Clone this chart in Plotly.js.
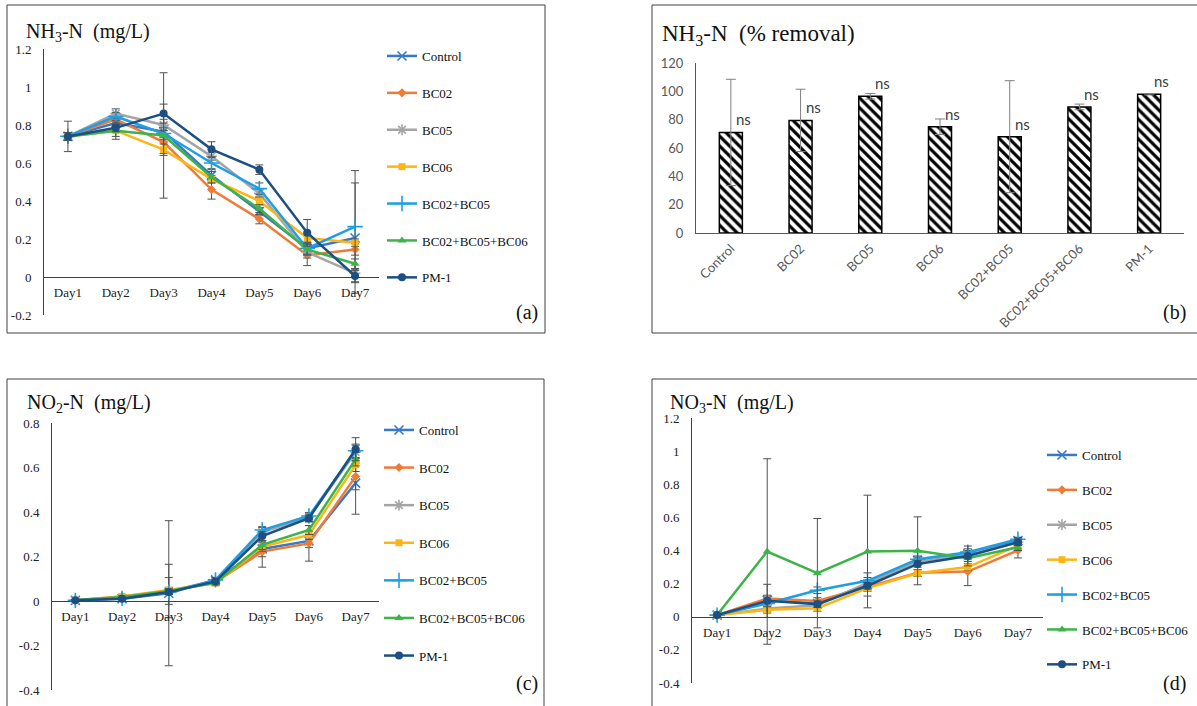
<!DOCTYPE html>
<html><head><meta charset="utf-8">
<script src="https://cdn.plot.ly/plotly-3.0.1.min.js"></script>
<style>html,body{margin:0;padding:0;background:#fff}#chart{width:1197px;height:706px}</style>
</head><body><div id="chart"></div>
<script>
// ---------- DATA ----------
const days = ['Day1','Day2','Day3','Day4','Day5','Day6','Day7'];
const seriesNames = ['Control','BC02','BC05','BC06','BC02+BC05','BC02+BC05+BC06','PM-1'];

// (a) NH3-N (mg/L), one row per series (order of seriesNames)
const nh3 = [
  [0.74, 0.81, 0.765, 0.535, 0.345, 0.15, 0.205],
  [0.74, 0.83, 0.71, 0.46, 0.305, 0.115, 0.145],
  [0.74, 0.86, 0.80, 0.635, 0.44, 0.13, 0.02],
  [0.74, 0.77, 0.67, 0.515, 0.40, 0.205, 0.18],
  [0.74, 0.845, 0.755, 0.60, 0.465, 0.15, 0.265],
  [0.74, 0.77, 0.745, 0.525, 0.36, 0.145, 0.07],
  [0.74, 0.785, 0.86, 0.672, 0.565, 0.233, 0.005]
];
const nh3Err = [
  [0.02, 0.02, 0.03, 0.03, 0.02, 0.03, 0.29],
  [0.02, 0.03, 0.06, 0.05, 0.025, 0.055, 0.03],
  [0.02, 0.025, 0.03, 0.02, 0.02, 0.03, 0.02],
  [0.02, 0.03, 0.03, 0.02, 0.02, 0.02, 0.02],
  [0.02, 0.02, 0.03, 0.03, 0.03, 0.03, 0.295],
  [0.08, 0.045, 0.33, 0.03, 0.02, 0.03, 0.025],
  [0.02, 0.02, 0.05, 0.04, 0.025, 0.07, 0.03]
];

// (b) NH3-N removal (%)
const removal = [71, 79.5, 96.5, 75, 68, 89, 98];
const removalErr = [37.5, 22, 2, 5.5, 39.5, 2, 0.5];
const removalSig = ['ns','ns','ns','ns','ns','ns','ns'];

// (c) NO2-N (mg/L)
const no2 = [
  [0.003, 0.01, 0.035, 0.095, 0.234, 0.27, 0.53],
  [0.003, 0.02, 0.045, 0.085, 0.222, 0.259, 0.56],
  [0.003, 0.015, 0.045, 0.09, 0.31, 0.375, 0.67],
  [0.003, 0.02, 0.05, 0.08, 0.244, 0.297, 0.612],
  [0.003, 0.012, 0.04, 0.095, 0.319, 0.382, 0.675],
  [0.003, 0.018, 0.045, 0.082, 0.252, 0.319, 0.637],
  [0.003, 0.01, 0.04, 0.088, 0.292, 0.372, 0.682]
];
const no2Err = [
  [0.003, 0.005, 0.326, 0.01, 0.035, 0.03, 0.14],
  [0.003, 0.005, 0.12, 0.01, 0.07, 0.08, 0.06],
  [0.003, 0.005, 0.06, 0.01, 0.02, 0.02, 0.03],
  [0.003, 0.005, 0.01, 0.01, 0.02, 0.02, 0.03],
  [0.003, 0.005, 0.01, 0.01, 0.015, 0.015, 0.03],
  [0.003, 0.005, 0.01, 0.01, 0.02, 0.02, 0.03],
  [0.003, 0.005, 0.01, 0.01, 0.02, 0.015, 0.052]
];

// (d) NO3-N (mg/L)
const no3 = [
  [0.01, 0.10, 0.08, 0.195, 0.34, 0.38, 0.46],
  [0.01, 0.11, 0.095, 0.18, 0.265, 0.273, 0.40],
  [0.01, 0.05, 0.07, 0.205, 0.335, 0.375, 0.45],
  [0.01, 0.042, 0.052, 0.173, 0.263, 0.30, 0.43],
  [0.01, 0.08, 0.16, 0.217, 0.347, 0.39, 0.468],
  [0.01, 0.394, 0.263, 0.394, 0.398, 0.353, 0.42],
  [0.01, 0.096, 0.076, 0.187, 0.319, 0.367, 0.45]
];
const no3Err = [
  [0.005, 0.02, 0.02, 0.07, 0.02, 0.02, 0.02],
  [0.005, 0.02, 0.02, 0.02, 0.02, 0.085, 0.045],
  [0.005, 0.02, 0.02, 0.02, 0.02, 0.02, 0.02],
  [0.005, 0.02, 0.02, 0.02, 0.02, 0.02, 0.02],
  [0.005, 0.02, 0.02, 0.02, 0.02, 0.02, 0.01],
  [0.005, 0.56, 0.33, 0.34, 0.205, 0.02, 0.02],
  [0.005, 0.1, 0.02, 0.02, 0.02, 0.06, 0.02]
];

// tick labels
const yTicksA = [-0.2, 0, 0.2, 0.4, 0.6, 0.8, 1, 1.2];
const yTextA  = ['-0.2','0','0.2','0.4','0.6','0.8','1','1.2'];
const yTicksC = [-0.4, -0.2, 0, 0.2, 0.4, 0.6, 0.8];
const yTextC  = ['-0.4','-0.2','0','0.2','0.4','0.6','0.8'];
const yTicksD = [-0.4, -0.2, 0, 0.2, 0.4, 0.6, 0.8, 1, 1.2];
const yTextD  = ['-0.4','-0.2','0','0.2','0.4','0.6','0.8','1','1.2'];
const yTicksB = [0, 20, 40, 60, 80, 100, 120];

// ---------- STYLE ----------
const colors  = ['#3878C8','#F07B36','#A5A5A5','#FDB515','#1F9FE3','#3DB449','#1C4F82'];
const symbols = ['x-thin','diamond','asterisk','square','cross-thin','triangle-up','circle'];
const msizes  = [9, 7, 9, 7, 11, 8, 8];
const thinSym = [true, false, true, false, true, false, false];
const W = 1197, H = 706;
const px = v => v / W, py = v => 1 - v / H;
const SERIF = '"Liberation Serif", "Times New Roman", serif';
const SANS = 'Lato, "Open Sans", sans-serif';
const errColor = '#505050';

const traces = [];
function addLines(vals, errs, xa, ya, legendId, tag) {
  seriesNames.forEach((name, i) => {
    traces.push({
      type: 'scatter', mode: 'lines+markers', name: name,
      x: days, y: vals[i], xaxis: xa, yaxis: ya,
      legend: legendId, legendgroup: tag + i,
      line: {color: colors[i], width: 2.5},
      marker: {symbol: symbols[i], size: msizes[i], color: colors[i],
               line: {color: colors[i], width: thinSym[i] ? 1.6 : 0}},
      error_y: {type: 'data', array: errs[i], visible: true, color: errColor, thickness: 1, width: 4},
      hoverinfo: 'x+y+name'
    });
  });
}
addLines(nh3, nh3Err, 'x', 'y', 'legend', 'a');
addLines(no2, no2Err, 'x3', 'y3', 'legend2', 'c');
addLines(no3, no3Err, 'x4', 'y4', 'legend3', 'd');

traces.push({
  type: 'bar', x: seriesNames, y: removal, xaxis: 'x2', yaxis: 'y2', showlegend: false,
  marker: {color: 'white', line: {color: 'black', width: 1.5},
           pattern: {shape: '\\', fgcolor: 'black', bgcolor: 'white', size: 7, solidity: 0.45}},
  error_y: {type: 'data', array: removalErr, visible: true, color: '#808080', thickness: 1, width: 5},
  width: 0.33
});

// ---------- LAYOUT ----------
function lineX(dom, pos) {
  return {type: 'category', domain: dom, range: [-0.5, 6.5], anchor: 'free', position: pos,
          showline: true, linecolor: '#404040', linewidth: 1, ticks: '', showgrid: false, zeroline: false,
          tickfont: {family: SERIF, size: 13, color: '#222'}, ticklabelstandoff: 3, fixedrange: true};
}
function lineY(anchor, dom, range, tv, tt) {
  return {anchor: anchor, domain: dom, range: range, tickvals: tv, ticktext: tt, showline: true, linecolor: '#404040',
          linewidth: 1, ticks: '', showgrid: false, zeroline: false, ticklabelstandoff: 9,
          tickfont: {family: SERIF, size: 13, color: '#222'}, fixedrange: true};
}
function legendAt(x, y, gap) {
  return {x: x, y: y, xanchor: 'left', yanchor: 'top', traceorder: 'grouped', tracegroupgap: gap,
          itemwidth: 30, bgcolor: 'rgba(0,0,0,0)', font: {family: SERIF, size: 13, color: '#111'},
          itemclick: false, itemdoubleclick: false};
}

const annotations = [];
function txt(x, y, text, size, anchor) {
  annotations.push({xref: 'paper', yref: 'paper', x: px(x), y: py(y), text: text, showarrow: false,
    xanchor: anchor || 'left', yanchor: 'middle', font: {family: SERIF, size: size, color: '#111'}});
}
txt(24, 32, 'NH<sub>3</sub>-N  (mg/L)', 20);
txt(660, 35, 'NH<sub>3</sub>-N  (% removal)', 23);
txt(25, 403, 'NO<sub>2</sub>-N  (mg/L)', 20);
txt(668, 403, 'NO<sub>3</sub>-N  (mg/L)', 20);
txt(527, 312, '(a)', 20, 'center');
txt(1174, 312, '(b)', 20, 'center');
txt(527, 683, '(c)', 20, 'center');
txt(1174, 683, '(d)', 20, 'center');
seriesNames.forEach((n, i) => {
  annotations.push({xref: 'x2', yref: 'y2', x: n, y: removal[i], text: removalSig[i], showarrow: false,
    xanchor: 'left', yanchor: 'bottom', xshift: 3, yshift: 2,
    font: {family: SANS, size: 15, color: '#404040'}});
});

const border = {color: '#404040', width: 1};
const shapes = [
  {type: 'rect', xref: 'paper', yref: 'paper', x0: px(7), x1: px(545), y0: py(333), y1: py(5), line: border},
  {type: 'rect', xref: 'paper', yref: 'paper', x0: px(652), x1: px(1205), y0: py(333), y1: py(5), line: border},
  {type: 'rect', xref: 'paper', yref: 'paper', x0: px(7), x1: px(544), y0: py(715), y1: py(379), line: border},
  {type: 'rect', xref: 'paper', yref: 'paper', x0: px(652), x1: px(1205), y0: py(715), y1: py(379), line: border}
];

const layout = {
  width: W, height: H, margin: {l: 0, r: 0, t: 0, b: 0}, paper_bgcolor: 'white', plot_bgcolor: 'rgba(0,0,0,0)',
  showlegend: true, hovermode: 'closest',
  xaxis: lineX([px(44), px(379)], py(277)),
  yaxis: lineY('x', [py(315), py(49)], [-0.2, 1.2], yTicksA, yTextA),
  xaxis3: lineX([px(52), px(379)], py(601)),
  yaxis3: lineY('x3', [py(690), py(423)], [-0.4, 0.8], yTicksC, yTextC),
  xaxis4: lineX([px(692), px(1043)], py(617)),
  yaxis4: lineY('x4', [py(683), py(418)], [-0.4, 1.2], yTicksD, yTextD),
  xaxis2: {type: 'category', domain: [px(696), px(1184)], anchor: 'y2', showline: true, linecolor: '#595959',
           linewidth: 1, ticks: '', tickangle: -45, showgrid: false, zeroline: false,
           tickfont: {family: SANS, size: 13, color: '#595959'}, ticklabelstandoff: 2, fixedrange: true},
  yaxis2: {domain: [py(233), py(63)], range: [0, 120], tickvals: yTicksB, anchor: 'x2', showline: true,
           linecolor: '#595959', linewidth: 1, ticks: '', showgrid: false, zeroline: false,
           tickfont: {family: SANS, size: 13, color: '#595959'}, ticklabelstandoff: 9, fixedrange: true},
  legend: legendAt(px(382), py(41), 17),
  legend2: legendAt(px(379), py(415), 17.7),
  legend3: legendAt(px(1042), py(440), 15),
  annotations: annotations,
  shapes: shapes
};

Plotly.newPlot('chart', traces, layout, {displayModeBar: false, responsive: false});
</script>
</body></html>
